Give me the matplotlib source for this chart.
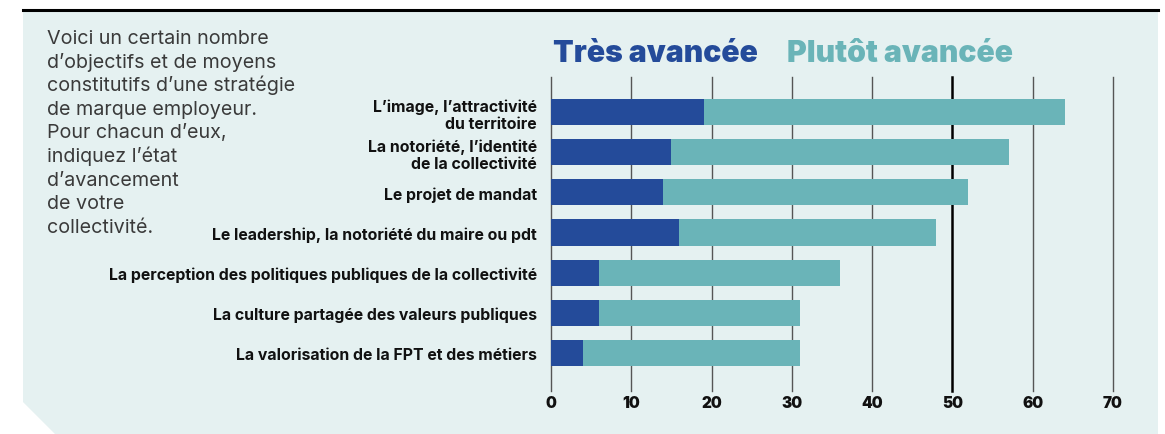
import matplotlib
matplotlib.use("Agg")
import matplotlib.pyplot as plt
from matplotlib.patches import Polygon
from matplotlib.lines import Line2D

# ---- data ----
categories = [
    "L\u2019image, l\u2019attractivit\u00e9\ndu territoire",
    "La notori\u00e9t\u00e9, l\u2019identit\u00e9\nde la collectivit\u00e9",
    "Le projet de mandat",
    "Le leadership, la notori\u00e9t\u00e9 du maire ou pdt",
    "La perception des politiques publiques de la collectivit\u00e9",
    "La culture partag\u00e9e des valeurs publiques",
    "La valorisation de la FPT et des m\u00e9tiers",
]
tres_avancee = [19, 15, 14, 16, 6, 6, 4]
plutot_avancee = [45, 42, 38, 32, 30, 25, 27]
series_names = ["Tr\u00e8s avanc\u00e9e", "Plut\u00f4t avanc\u00e9e"]
x_ticks = [0, 10, 20, 30, 40, 50, 60, 70]
intro_lines = [
    "Voici un certain nombre",
    "d\u2019objectifs et de moyens",
    "constitutifs d\u2019une strat\u00e9gie",
    "de marque employeur.",
    "Pour chacun d\u2019eux,",
    "indiquez l\u2019\u00e9tat",
    "d\u2019avancement",
    "de votre",
    "collectivit\u00e9.",
]

# ---- style ----
DARK = "#244b9a"
TEAL = "#6ab4b8"
BG = "#e5f1f1"
W, H = 1165, 435
plt.rcParams['font.family'] = ['Inter', 'DejaVu Sans']

fig = plt.figure(figsize=(W / 100, H / 100), dpi=100)
fig.patch.set_facecolor("white")

def fx(px):
    return px / W

def fy(py):
    return 1 - py / H

# background panel with chamfered lower-left corner
panel = Polygon([(fx(23), fy(11)), (fx(1158), fy(11)), (fx(1158), fy(435)),
                 (fx(55), fy(435)), (fx(23), fy(403))],
                closed=True, transform=fig.transFigure, facecolor=BG,
                edgecolor="none", zorder=-10)
fig.patches.append(panel)
fig.lines.append(Line2D([fx(23), fx(1158)], [fy(10.5), fy(10.5)],
                        transform=fig.transFigure, color="black", lw=2.2,
                        zorder=1))

ax = fig.add_axes([fx(551), fy(392), fx(1113) - fx(551), fy(78) - fy(392)])
ax.set_zorder(5)
ax.set_facecolor("none")
for s in ax.spines.values():
    s.set_visible(False)

ypos = list(range(len(categories)))
ax.barh(ypos, tres_avancee, height=0.65, color=DARK, zorder=3)
ax.barh(ypos, plutot_avancee, left=tres_avancee, height=0.65, color=TEAL,
        zorder=3)

for t in x_ticks:
    if t == 50:
        ax.axvline(t, color="black", lw=1.8, zorder=1, clip_on=False)
    else:
        ax.axvline(t, color="#555555", lw=1.0, zorder=1, clip_on=False)

ax.set_xlim(0, 70)
ax.set_ylim(6.945, -0.871)
ax.set_xticks(x_ticks)
ax.set_xticklabels([str(t) for t in x_ticks], fontsize=11, fontweight="black",
                   color="#111111")
ax.set_yticks(ypos)
ax.set_yticklabels(categories, fontsize=11.4, fontweight="bold",
                   color="#111111", linespacing=1.15)
ax.tick_params(axis="x", length=0, pad=3)
ax.tick_params(axis="y", length=0, pad=10)

# legend as coloured words
fig.text(fx(553), fy(62), series_names[0], color=DARK, fontsize=21.7,
         fontweight="black", va="baseline", ha="left")
fig.text(fx(787), fy(62), series_names[1], color=TEAL, fontsize=21.7,
         fontweight="black", va="baseline", ha="left")

# intro paragraph
for i, line in enumerate(intro_lines):
    fig.text(fx(47), fy(44 + 23.6 * i), line, color="#3a3a3a", fontsize=14.2,
             va="baseline", ha="left")

fig.savefig("out.png", dpi=100, facecolor=fig.get_facecolor())
